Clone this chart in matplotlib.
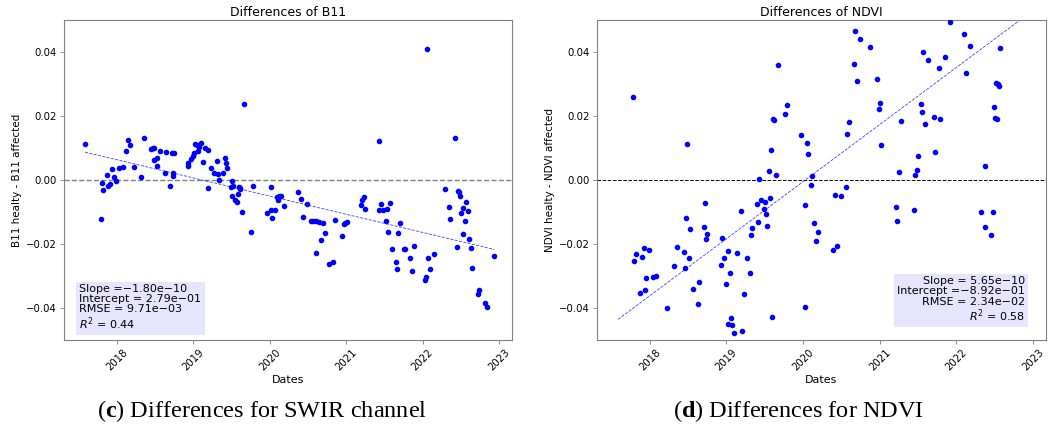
import numpy as np
import matplotlib
matplotlib.use("Agg")
import matplotlib.pyplot as plt

plt.rcParams['font.family'] = ['DejaVu Sans']
plt.rcParams['mathtext.fontset'] = 'custom'
plt.rcParams['mathtext.bf'] = 'Liberation Serif:bold'

# acquisition dates (decimal years) and differences healthy - affected
b11_dates = [2017.586, 2017.789, 2017.806, 2017.824, 2017.877, 2017.890, 2017.910, 2017.943,
             2017.960, 2017.987, 2018.035, 2018.079, 2018.123, 2018.150, 2018.176, 2018.229,
             2018.313, 2018.352, 2018.454, 2018.476, 2018.485, 2018.493, 2018.520, 2018.529,
             2018.568, 2018.626, 2018.639, 2018.700, 2018.718, 2018.731, 2018.740, 2018.744,
             2018.930, 2018.938, 2018.969, 2018.991, 2019.009, 2019.026, 2019.044, 2019.057,
             2019.070, 2019.097, 2019.132, 2019.150, 2019.189, 2019.198, 2019.229, 2019.269,
             2019.308, 2019.326, 2019.335, 2019.388, 2019.410, 2019.423, 2019.445, 2019.489,
             2019.502, 2019.511, 2019.524, 2019.542, 2019.577, 2019.586, 2019.595, 2019.608,
             2019.617, 2019.639, 2019.665, 2019.762, 2019.780, 2019.965, 2020.013, 2020.022,
             2020.035, 2020.066, 2020.097, 2020.114, 2020.128, 2020.154, 2020.185, 2020.374,
             2020.405, 2020.432, 2020.485, 2020.542, 2020.573, 2020.600, 2020.608, 2020.652,
             2020.670, 2020.692, 2020.727, 2020.775, 2020.824, 2020.855, 2020.952, 2020.974,
             2020.991, 2021.009, 2021.194, 2021.211, 2021.238, 2021.251, 2021.427, 2021.436,
             2021.463, 2021.485, 2021.524, 2021.537, 2021.551, 2021.568, 2021.604, 2021.648,
             2021.665, 2021.683, 2021.700, 2021.758, 2021.775, 2021.837, 2021.863, 2021.894,
             2022.031, 2022.048, 2022.053, 2022.070, 2022.097, 2022.154, 2022.300, 2022.344,
             2022.361, 2022.427, 2022.449, 2022.463, 2022.480, 2022.493, 2022.507, 2022.529,
             2022.533, 2022.551, 2022.573, 2022.590, 2022.612, 2022.630, 2022.643, 2022.727,
             2022.740, 2022.819, 2022.841, 2022.938]
b11_diff = [0.0113, -0.0123, -0.0009, -0.0030, 0.0017, -0.0018, -0.0014, 0.0034,
            0.0010, -0.0003, 0.0036, 0.0042, 0.0091, 0.0124, 0.0110, 0.0041,
            0.0009, 0.0130, 0.0097, 0.0100, 0.0062, 0.0101, 0.0070, 0.0044,
            0.0091, 0.0022, 0.0088, -0.0019, 0.0085, 0.0023, 0.0013, 0.0084,
            0.0053, 0.0045, 0.0067, 0.0075, 0.0084, 0.0112, 0.0109, 0.0092,
            0.0102, 0.0117, 0.0056, 0.0101, -0.0024, 0.0095, 0.0039, 0.0021,
            0.0060, 0.0018, 0.0000, 0.0022, 0.0070, 0.0052, 0.0037, -0.0023,
            -0.0049, -0.0003, -0.0018, -0.0063, -0.0068, -0.0044, -0.0023, -0.0029,
            -0.0026, -0.0100, 0.0238, -0.0161, -0.0019, -0.0102, -0.0094, -0.0023,
            -0.0120, -0.0093, -0.0052, -0.0063, -0.0050, -0.0050, -0.0080, -0.0039,
            -0.0058, -0.0115, -0.0076, -0.0127, -0.0128, -0.0129, -0.0227, -0.0132,
            -0.0189, -0.0133, -0.0166, -0.0264, -0.0257, -0.0124, -0.0174, -0.0139,
            -0.0134, -0.0130, -0.0079, -0.0063, -0.0052, -0.0090, 0.0123, -0.0094,
            -0.0076, -0.0094, -0.0128, -0.0092, -0.0163, -0.0071, -0.0215, -0.0255,
            -0.0279, -0.0165, -0.0133, -0.0215, -0.0215, -0.0244, -0.0284, -0.0205,
            -0.0313, -0.0302, 0.0409, -0.0243, -0.0278, -0.0231, -0.0029, -0.0085,
            -0.0121, 0.0130, -0.0208, -0.0034, -0.0039, -0.0051, -0.0103, -0.0089,
            -0.0170, -0.0128, -0.0068, -0.0096, -0.0183, -0.0211, -0.0274, -0.0356,
            -0.0344, -0.0383, -0.0397, -0.0236]

ndvi_dates = [2017.777, 2017.799, 2017.816, 2017.873, 2017.891, 2017.917, 2017.934, 2017.952,
              2017.983, 2018.035, 2018.074, 2018.227, 2018.311, 2018.350, 2018.446, 2018.464,
              2018.477, 2018.486, 2018.516, 2018.530, 2018.569, 2018.626, 2018.643, 2018.700,
              2018.726, 2018.739, 2018.748, 2018.932, 2018.940, 2018.971, 2018.997, 2019.015,
              2019.024, 2019.041, 2019.054, 2019.072, 2019.094, 2019.137, 2019.194, 2019.203,
              2019.234, 2019.273, 2019.308, 2019.326, 2019.339, 2019.396, 2019.413, 2019.426,
              2019.452, 2019.492, 2019.509, 2019.518, 2019.535, 2019.549, 2019.566, 2019.575,
              2019.592, 2019.601, 2019.623, 2019.641, 2019.671, 2019.767, 2019.785, 2019.973,
              2020.021, 2020.030, 2020.047, 2020.069, 2020.109, 2020.117, 2020.139, 2020.165,
              2020.196, 2020.388, 2020.419, 2020.444, 2020.497, 2020.555, 2020.577, 2020.603,
              2020.660, 2020.673, 2020.699, 2020.743, 2020.874, 2020.966, 2020.988, 2021.010,
              2021.018, 2021.215, 2021.228, 2021.255, 2021.272, 2021.450, 2021.460, 2021.486,
              2021.504, 2021.543, 2021.556, 2021.569, 2021.586, 2021.626, 2021.709, 2021.722,
              2021.775, 2021.788, 2021.858, 2021.915, 2022.094, 2022.120, 2022.177, 2022.326,
              2022.370, 2022.379, 2022.453, 2022.484, 2022.497, 2022.506, 2022.519, 2022.536,
              2022.545, 2022.563, 2022.576]
ndvi_diff = [0.0258, -0.0254, -0.0230, -0.0353, -0.0240, -0.0214, -0.0344, -0.0307,
             -0.0218, -0.0303, -0.0300, -0.0399, -0.0269, -0.0210, -0.0224, -0.0276,
             -0.0118, 0.0112, -0.0244, -0.0153, -0.0340, -0.0386, -0.0318, -0.0148,
             -0.0072, -0.0184, -0.0168, -0.0266, -0.0180, -0.0244, -0.0326, -0.0223,
             -0.0449, -0.0291, -0.0430, -0.0453, -0.0479, -0.0229, -0.0097, -0.0472,
             -0.0357, -0.0244, -0.0291, -0.0172, -0.0151, -0.0075, -0.0130, 0.0003,
             -0.0063, -0.0090, -0.0068, -0.0106, -0.0145, 0.0027, -0.0057, 0.0093,
             -0.0428, 0.0191, 0.0189, 0.0016, 0.0358, 0.0206, 0.0233, 0.0140,
             -0.0078, -0.0398, 0.0116, 0.0080, -0.0016, 0.0011, -0.0135, -0.0190,
             -0.0161, -0.0220, -0.0046, -0.0207, -0.0050, -0.0023, 0.0143, 0.0180,
             0.0363, 0.0466, 0.0308, 0.0440, 0.0417, 0.0315, 0.0222, 0.0240,
             0.0109, -0.0085, -0.0128, 0.0025, 0.0183, -0.0095, 0.0015, 0.0031,
             0.0074, 0.0236, 0.0214, 0.0399, 0.0176, 0.0375, 0.0197, 0.0086,
             0.0351, 0.0192, 0.0384, 0.0493, 0.0455, 0.0334, 0.0418, -0.0100,
             -0.0147, 0.0045, -0.0173, -0.0101, 0.0227, 0.0193, 0.0302, 0.0190,
             0.0299, 0.0295, 0.0414]

# regression results (slope per second of timestamp)
b11_fit = {'slope': -1.80e-10, 'intercept': 2.79e-01, 'rmse': 9.71e-03, 'r2': 0.44}
ndvi_fit = {'slope': 5.65e-10, 'intercept': -8.92e-01, 'rmse': 2.34e-02, 'r2': 0.58}

year_ticks = [2018, 2019, 2020, 2021, 2022, 2023]
SEC_PER_YEAR = 365.25 * 86400


def fit_line(fit, years):
    t = (np.asarray(years) - 1970) * SEC_PER_YEAR
    return fit['slope'] * t + fit['intercept']


def fmt(v):
    return '{: .2e}'.format(v).replace('-', '\u2212')


def stats_text(fit):
    return ('Slope =' + fmt(fit['slope']) + '\n'
            'Intercept =' + fmt(fit['intercept']) + '\n'
            'RMSE =' + fmt(fit['rmse']) + '\n'
            '$R^2$ = {:.2f}'.format(fit['r2']))


fig = plt.figure(figsize=(10.58, 4.30), dpi=100)
ax1 = fig.add_axes([64 / 1058, 90 / 430, 448 / 1058, 320 / 430])
ax2 = fig.add_axes([597 / 1058, 90 / 430, 449 / 1058, 320 / 430])

line_x = np.array([min(b11_dates), max(b11_dates)])

panels = [
    (ax1, b11_dates, b11_diff, b11_fit, 'B11', 'gray', 1.0, 'left'),
    (ax2, ndvi_dates, ndvi_diff, ndvi_fit, 'NDVI', 'black', 0.7, 'right'),
]

box = dict(boxstyle='square,pad=0.3', facecolor='blue', alpha=0.1, edgecolor='none')

for ax, dates, diff, fit, name, zcol, zlw, align in panels:
    ax.axhline(0, color=zcol, ls='--', lw=zlw, zorder=1)
    ax.plot(dates, diff, 'o', color='blue', ms=3, zorder=3)
    ax.plot(line_x, fit_line(fit, line_x), '--', color='blue', lw=0.6, alpha=0.75, zorder=2)
    ax.set_xlim(2017.31, 2023.17)
    ax.set_ylim(-0.05, 0.05)
    ax.set_yticks([-0.04, -0.02, 0.0, 0.02, 0.04])
    ax.set_yticklabels(['\u22120.04', '\u22120.02', '0.00', '0.02', '0.04'])
    ax.set_xticks(year_ticks)
    ax.set_xticklabels([str(y) for y in year_ticks], rotation=45)
    ax.tick_params(labelsize=7.3, color='gray', length=3, width=0.6, pad=2)
    for sp in ax.spines.values():
        sp.set_color('gray')
        sp.set_linewidth(0.8)
    ax.set_title('Differences of ' + name, fontsize=9, pad=3)
    ax.set_xlabel('Dates', fontsize=8, labelpad=2)
    ax.set_ylabel(name + ' healty - ' + name + ' affected', fontsize=7.5, labelpad=3)
    if align == 'left':
        ax.text(0.034, 0.026, stats_text(fit), transform=ax.transAxes, fontsize=8,
                ha='left', va='bottom', linespacing=1.05, bbox=box)
    else:
        ax.text(0.953, 0.05, stats_text(fit), transform=ax.transAxes, fontsize=8,
                ha='right', va='bottom', multialignment='right', linespacing=1.05, bbox=box)

fig.text(262 / 1058, 0.043, r'($\mathbf{c}$) Differences for SWIR channel', family='Liberation Serif',
         fontsize=17.5, ha='center', va='center')
fig.text(798 / 1058, 0.043, r'($\mathbf{d}$) Differences for NDVI', family='Liberation Serif',
         fontsize=17.5, ha='center', va='center')

fig.savefig('out.png', dpi=100)
